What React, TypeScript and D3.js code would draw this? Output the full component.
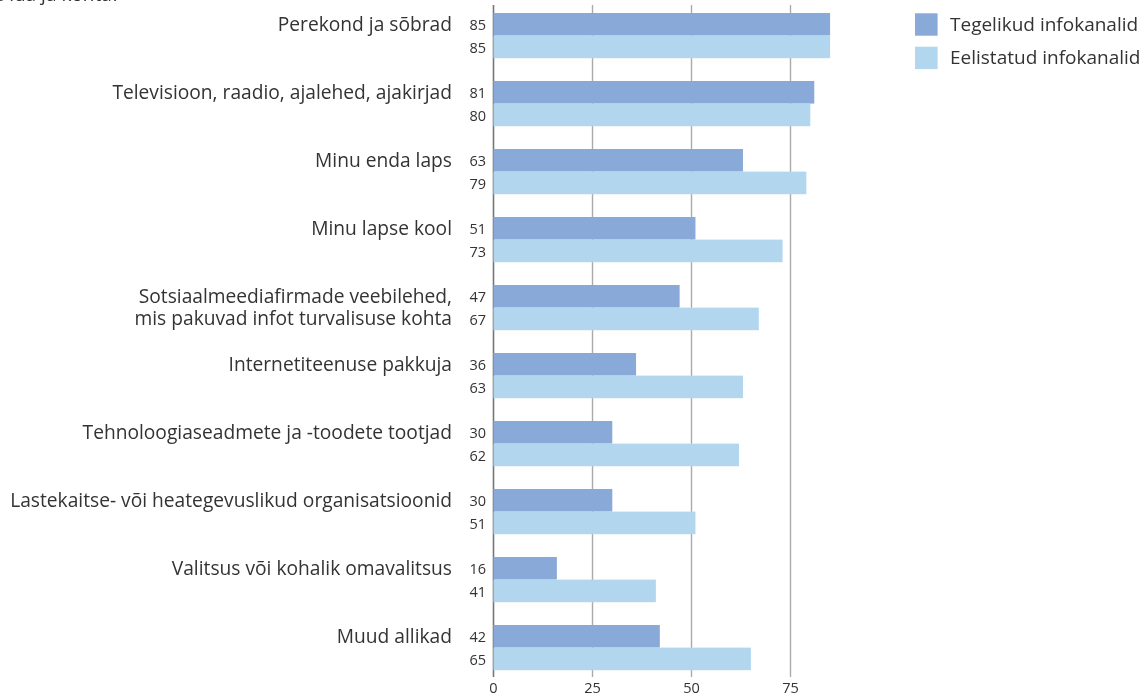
import React from "react";
import * as d3 from "d3";

const categories: string[][] = [
  ["Perekond ja sõbrad"],
  ["Televisioon, raadio, ajalehed, ajakirjad"],
  ["Minu enda laps"],
  ["Minu lapse kool"],
  ["Sotsiaalmeediafirmade veebilehed,", "mis pakuvad infot turvalisuse kohta"],
  ["Internetiteenuse pakkuja"],
  ["Tehnoloogiaseadmete ja -toodete tootjad"],
  ["Lastekaitse- või heategevuslikud organisatsioonid"],
  ["Valitsus või kohalik omavalitsus"],
  ["Muud allikad"],
];
const actual = [85, 81, 63, 51, 47, 36, 30, 30, 16, 42];
const preferred = [85, 80, 79, 73, 67, 63, 62, 51, 41, 65];
const seriesNames = ["Tegelikud infokanalid", "Eelistatud infokanalid"];
const tickValues = [0, 25, 50, 75];
const colors = ["#89a9d8", "#b3d6ef"];

const W = 1145;
const H = 698;
const FONT = "'Open Sans', 'Noto Sans', sans-serif";

export default function App() {
  const x = d3.scaleLinear().domain([0, 75]).range([493.5, 790.5]);
  const y = d3
    .scaleBand<number>()
    .domain(d3.range(categories.length))
    .range([13, 13 + 68 * categories.length])
    .paddingInner(0)
    .paddingOuter(0);
  const barH = 22.6;
  const gridTop = 5;
  const gridBottom = 677;

  return (
    <div style={{ position: "fixed", left: 0, top: 0 }}>
      <svg width={W} height={H} style={{ display: "block", fontFamily: FONT }}>
        <text x={120} y={1} textAnchor="end" fontSize={19} fill="#333">
          turvalisuse ida ja kohta?
        </text>
        {tickValues.map((t) => (
          <line
            key={t}
            x1={x(t)}
            x2={x(t)}
            y1={gridTop}
            y2={gridBottom}
            stroke={t === 0 ? "#777" : "#aaa"}
            strokeWidth={t === 0 ? 1.6 : 1.4}
          />
        ))}
        {categories.map((cat, i) => {
          const y0 = y(i)!;
          return (
            <g key={i}>
              <rect x={x(0)} y={y0} width={x(actual[i]) - x(0)} height={barH} fill={colors[0]} />
              <rect x={x(0)} y={y0 + barH} width={x(preferred[i]) - x(0)} height={barH} fill={colors[1]} />
              <text x={486} y={y0 + barH / 2 + 6} textAnchor="end" fontSize={14.5} fill="#333">
                {actual[i]}
              </text>
              <text x={486} y={y0 + barH * 1.5 + 6} textAnchor="end" fontSize={14.5} fill="#333">
                {preferred[i]}
              </text>
              {cat.map((line, j) => (
                <text
                  key={j}
                  x={452}
                  y={y0 + barH / 2 + 6.5 + j * barH}
                  textAnchor="end"
                  fontSize={19.2}
                  fill="#333"
                >
                  {line}
                </text>
              ))}
            </g>
          );
        })}
        {tickValues.map((t) => (
          <text key={"t" + t} x={x(t)} y={693} textAnchor="middle" fontSize={14.5} fill="#333">
            {t}
          </text>
        ))}
        {seriesNames.map((s, i) => (
          <g key={s}>
            <rect x={915} y={13.3 + i * 33.4} width={22.6} height={22.4} fill={colors[i]} />
            <text x={950} y={13.3 + i * 33.4 + 17.5} fontSize={19} fill="#333">
              {s}
            </text>
          </g>
        ))}
      </svg>
    </div>
  );
}
